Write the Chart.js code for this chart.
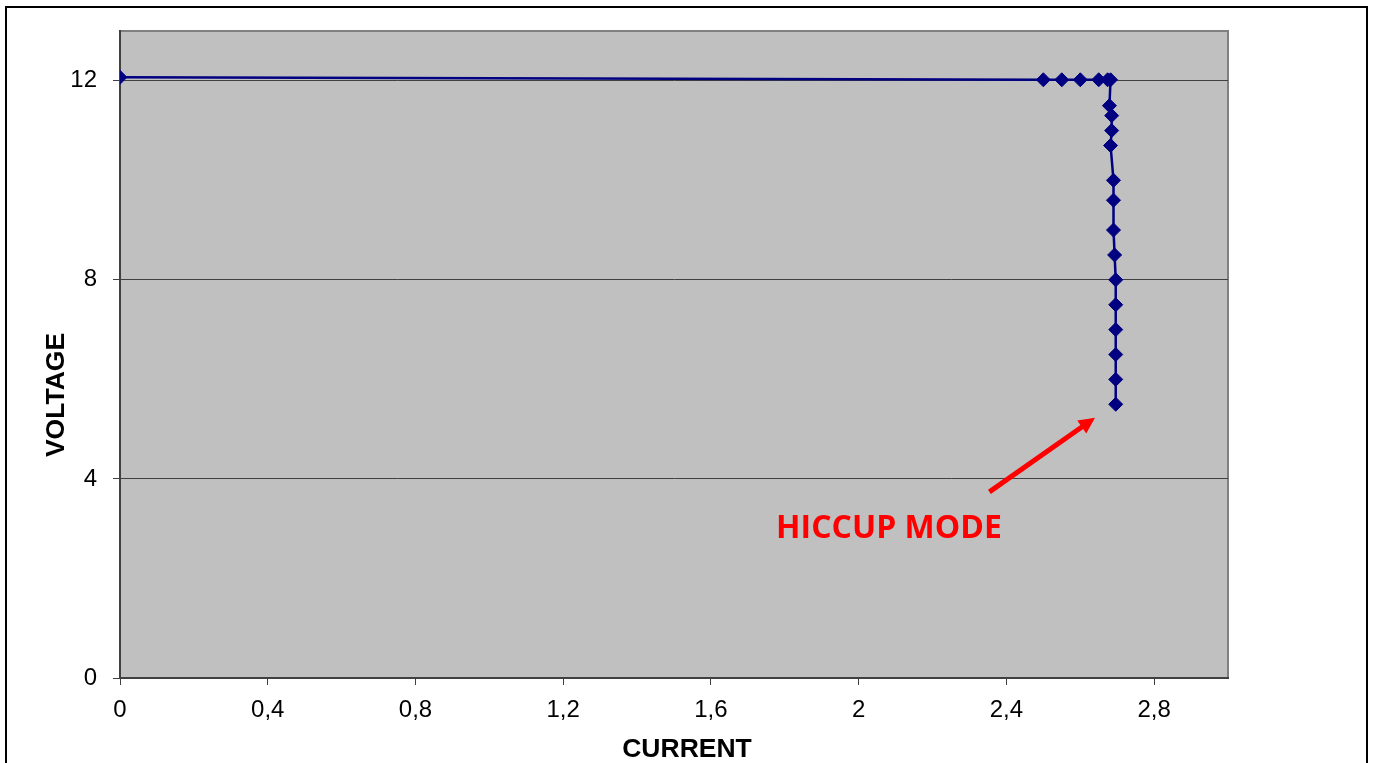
<!DOCTYPE html>
<html>
<head>
<meta charset="utf-8">
<script src="https://cdn.jsdelivr.net/npm/chart.js@4/dist/chart.umd.min.js"></script>
<style>
  html, body { margin: 0; padding: 0; background: #fff; overflow: hidden; }
  #rahmen { position: absolute; left: 5px; top: 6px; width: 1359px; height: 780px; border: 2px solid #000; }
  #wrap { position: absolute; left: 0; top: 0; width: 1375px; height: 763px; }
</style>
</head>
<body>
<div id="rahmen"></div>
<div id="wrap"><canvas id="kennlinie"></canvas></div>
<script>
const strom = [0, 2.50, 2.55, 2.60, 2.65, 2.674, 2.682, 2.679, 2.685, 2.685, 2.682, 2.69, 2.69, 2.69, 2.693, 2.696, 2.696, 2.696, 2.696, 2.696, 2.696];
const spannung = [12.07, 12.02, 12.02, 12.02, 12.02, 12.02, 12.02, 11.5, 11.3, 11.0, 10.7, 10.0, 9.6, 9.0, 8.5, 8.0, 7.5, 7.0, 6.5, 6.0, 5.5];

const xTicks = [0, 0.4, 0.8, 1.2, 1.6, 2, 2.4, 2.8];
const yTicks = [0, 4, 8, 12];

const xTitel = "CURRENT";
const yTitel = "VOLTAGE";

// Hinweis "HICCUP MODE" in Datenkoordinaten
const hinweisText = "HICCUP MODE";
const hinweisPos = { x: 2.082, y: 3.0 };
const pfeilStart = { x: 2.354, y: 3.74 };
const pfeilSpitze = { x: 2.64, y: 5.23 };

const punkte = strom.map((s, i) => ({ x: s, y: spannung[i] }));

// Grauer Hintergrund der Zeichenfläche
const hintergrund = {
  id: "hintergrund",
  beforeDraw(chart) {
    const { ctx, chartArea: a } = chart;
    ctx.save();
    ctx.fillStyle = "#C0C0C0";
    ctx.fillRect(a.left, a.top, a.right - a.left, a.bottom - a.top);
    ctx.strokeStyle = "#808080";
    ctx.lineWidth = 2;
    ctx.strokeRect(a.left, a.top, a.right - a.left, a.bottom - a.top);
    ctx.restore();
  }
};

// Achsentitel (wie im Original leicht versetzt)
const achsentitel = {
  id: "achsentitel",
  afterDraw(chart) {
    const { ctx, chartArea: a } = chart;
    ctx.save();
    ctx.fillStyle = "#000";
    ctx.font = "bold 26.5px 'Liberation Sans', Arial";
    ctx.textAlign = "center";
    ctx.textBaseline = "alphabetic";
    ctx.fillText(xTitel, (a.left + a.right) / 2 + 13, 757);
    ctx.translate(64, 395);
    ctx.rotate(-Math.PI / 2);
    ctx.fillText(yTitel, 0, 0);
    ctx.restore();
  }
};

// Pfeil und Beschriftung
const hinweis = {
  id: "hinweis",
  afterDatasetsDraw(chart) {
    const { ctx, scales: { x, y } } = chart;
    const x0 = x.getPixelForValue(pfeilStart.x), y0 = y.getPixelForValue(pfeilStart.y);
    const x1 = x.getPixelForValue(pfeilSpitze.x), y1 = y.getPixelForValue(pfeilSpitze.y);
    const w = Math.atan2(y1 - y0, x1 - x0);
    const kopf = 18;
    ctx.save();
    ctx.strokeStyle = "#FF0000";
    ctx.fillStyle = "#FF0000";
    ctx.lineWidth = 5;
    ctx.beginPath();
    ctx.moveTo(x0, y0);
    ctx.lineTo(x1 - Math.cos(w) * kopf * 0.8, y1 - Math.sin(w) * kopf * 0.8);
    ctx.stroke();
    ctx.beginPath();
    ctx.moveTo(x1, y1);
    ctx.lineTo(x1 - kopf * Math.cos(w - 0.45), y1 - kopf * Math.sin(w - 0.45));
    ctx.lineTo(x1 - kopf * Math.cos(w + 0.45), y1 - kopf * Math.sin(w + 0.45));
    ctx.closePath();
    ctx.fill();
    ctx.font = "bold 32px 'Open Sans'";
    ctx.textAlign = "center";
    ctx.textBaseline = "middle";
    ctx.fillText(hinweisText, x.getPixelForValue(hinweisPos.x), y.getPixelForValue(hinweisPos.y));
    ctx.restore();
  }
};

const ctx = document.getElementById("kennlinie").getContext("2d");
new Chart(ctx, {
  type: "scatter",
  data: {
    datasets: [{
      data: punkte,
      showLine: true,
      borderColor: "#000080",
      borderWidth: 2.5,
      backgroundColor: "#000080",
      pointStyle: "rectRot",
      pointRadius: 7,
      pointBorderWidth: 1,
      pointBorderColor: "#000080",
      tension: 0
    }]
  },
  options: {
    responsive: true,
    maintainAspectRatio: false,
    animation: false,
    layout: { padding: { left: 0, top: 31, right: 147, bottom: 0 } },
    plugins: {
      legend: { display: false },
      tooltip: { enabled: false }
    },
    scales: {
      x: {
        type: "linear",
        min: 0,
        max: 3,
        afterBuildTicks(scale) { scale.ticks = xTicks.map(v => ({ value: v })); },
        afterFit(scale) { scale.height = 85; },
        ticks: {
          color: "#000",
          font: { family: "'Liberation Sans', Arial", size: 24 },
          padding: 11,
          maxRotation: 0,
          callback: v => String(v).replace(".", ",")
        },
        grid: { drawOnChartArea: false, tickLength: 7, tickColor: "#404040" },
        border: { color: "#404040", width: 2 }
      },
      y: {
        type: "linear",
        min: 0,
        max: 13,
        afterBuildTicks(scale) { scale.ticks = yTicks.map(v => ({ value: v })); },
        afterFit(scale) { scale.width = 120; },
        ticks: {
          color: "#000",
          font: { family: "'Liberation Sans', Arial", size: 24 },
          padding: 16
        },
        grid: { color: "#404040", lineWidth: 1, tickLength: 7, tickColor: "#404040" },
        border: { color: "#404040", width: 2 }
      }
    }
  },
  plugins: [hintergrund, hinweis, achsentitel]
});
</script>
</body>
</html>
